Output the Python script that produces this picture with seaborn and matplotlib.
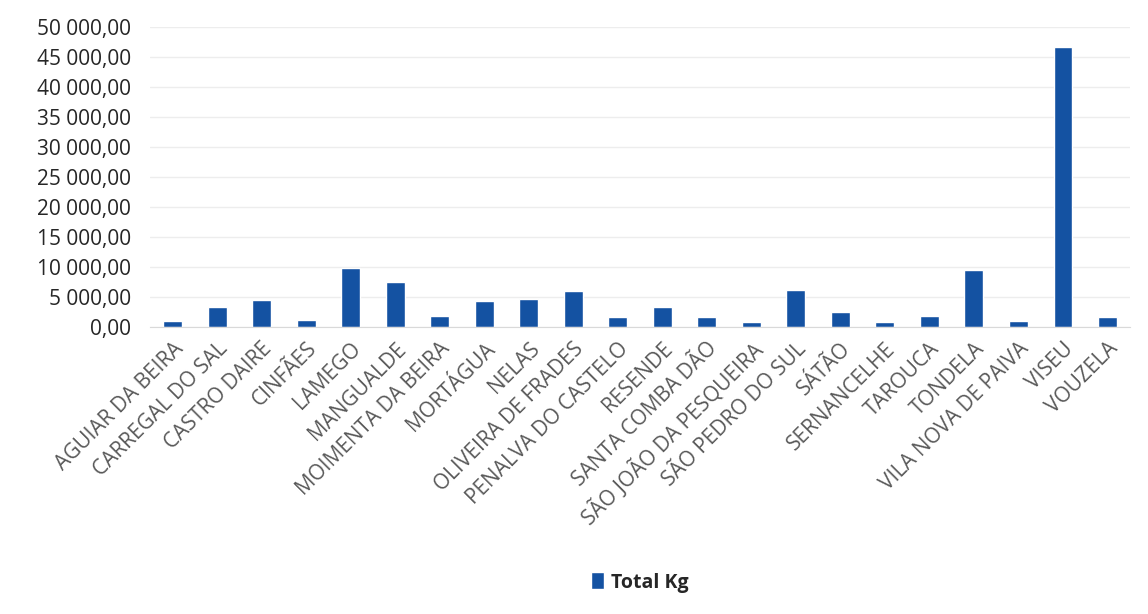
import seaborn as sns
import pandas as pd
import matplotlib.pyplot as plt
from matplotlib.ticker import MultipleLocator, FuncFormatter

concelhos = [
    "AGUIAR DA BEIRA", "CARREGAL DO SAL", "CASTRO DAIRE", "CINFÃES", "LAMEGO",
    "MANGUALDE", "MOIMENTA DA BEIRA", "MORTÁGUA", "NELAS", "OLIVEIRA DE FRADES",
    "PENALVA DO CASTELO", "RESENDE", "SANTA COMBA DÃO", "SÃO JOÃO DA PESQUEIRA",
    "SÃO PEDRO DO SUL", "SÁTÃO", "SERNANCELHE", "TAROUCA", "TONDELA",
    "VILA NOVA DE PAIVA", "VISEU", "VOUZELA",
]
total_kg = [
    1000, 3300, 4600, 1200, 9800,
    7500, 1800, 4400, 4700, 6000,
    1700, 3300, 1700, 800,
    6200, 2500, 900, 1900, 9500,
    1000, 46600, 1700,
]

df = pd.DataFrame({"concelho": concelhos, "kg": total_kg})

sns.set_style("white")
plt.rcParams["font.family"] = ["Open Sans", "DejaVu Sans"]

fig = plt.figure(figsize=(11.48, 6.14), dpi=100)
ax = fig.add_axes([0.131, 0.467, 0.853, 0.489])

sns.barplot(data=df, x="concelho", y="kg", color="#1452a2", width=0.42,
            saturation=1, ax=ax, label="Total Kg")

ax.set_ylim(0, 50000)
ax.yaxis.set_major_locator(MultipleLocator(5000))
ax.yaxis.set_major_formatter(
    FuncFormatter(lambda v, pos: f"{v:,.2f}".replace(",", " ").replace(".", ","))
)
ax.grid(axis="y", color="#ededed", linewidth=1)
ax.set_axisbelow(True)
sns.despine(ax=ax, left=True, top=True, right=True)
ax.spines["bottom"].set_color("#d9d9d9")

ax.set(xlabel="", ylabel="")
ax.tick_params(axis="y", labelsize=15, colors="#262626", length=0, pad=14)
ax.tick_params(axis="x", labelsize=15, colors="#595959", length=0, pad=8)
plt.setp(ax.get_xticklabels(), rotation=45, ha="right", rotation_mode="anchor")

leg = ax.legend(loc="center", bbox_to_anchor=(0.5, -0.85), frameon=False,
                fontsize=14, handlelength=0.65, handleheight=0.95, handletextpad=0.4)
for t in leg.get_texts():
    t.set_fontweight("bold")
    t.set_color("#262626")

plt.savefig("out.png", dpi=100)
